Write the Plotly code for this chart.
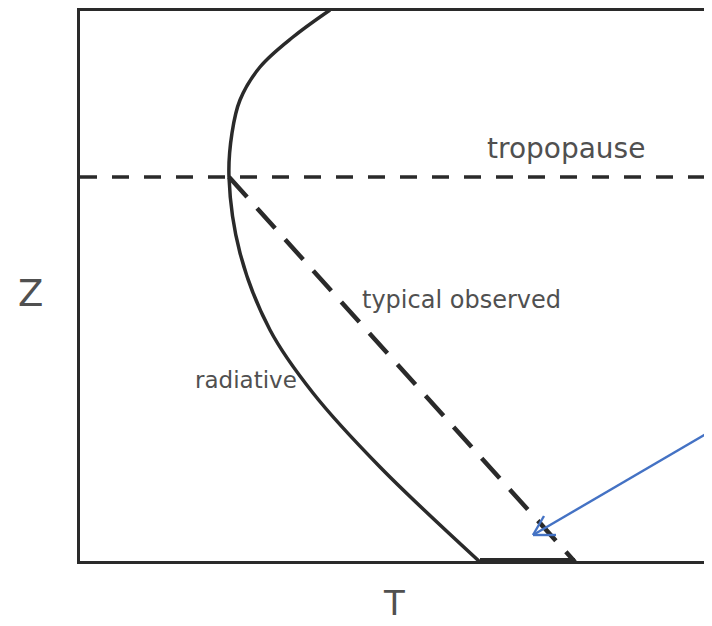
import plotly.graph_objects as go

# Data (arbitrary T / Z units)
rad_T = [252, 215, 182, 162, 154, 151, 162, 192, 235, 302, 402]
rad_Z = [552, 525, 495, 462, 429, 385, 309, 232, 169, 95, 0]
obs_T = [151, 497]
obs_Z = [385, 0]
trop_T = [2, 634]
trop_Z = [385, 385]
surf_T = [402, 497]
surf_Z = [1, 1]
arrow_tip = (455, 27)
arrow_tail = (640, 135)

LINE = "#2a2a2a"
TXT = "#505050"
BLUE = "#4472C4"

fig = go.Figure()
fig.add_trace(go.Scatter(x=trop_T, y=trop_Z, mode="lines",
                         line=dict(color=LINE, width=3.5, dash="17px,15px"), hoverinfo="skip"))
fig.add_trace(go.Scatter(x=rad_T, y=rad_Z, mode="lines",
                         line=dict(color=LINE, width=3.5, shape="spline", smoothing=1.0), hoverinfo="skip"))
fig.add_trace(go.Scatter(x=obs_T, y=obs_Z, mode="lines",
                         line=dict(color=LINE, width=4.5, dash="27px,15px"), hoverinfo="skip"))
fig.add_trace(go.Scatter(x=surf_T, y=surf_Z, mode="lines",
                         line=dict(color=LINE, width=6), hoverinfo="skip", cliponaxis=False))

# arrow: shaft + open head
tx, ty = arrow_tip
fig.add_shape(type="line", xref="x", yref="y", x0=tx, y0=ty, x1=arrow_tail[0], y1=arrow_tail[1],
              line=dict(color=BLUE, width=2.4))
fig.add_shape(type="line", xref="x", yref="y", x0=tx, y0=ty, x1=tx + 11, y1=ty + 19,
              line=dict(color=BLUE, width=2.4))
fig.add_shape(type="line", xref="x", yref="y", x0=tx, y0=ty, x1=tx + 23, y1=ty,
              line=dict(color=BLUE, width=2.4))

font = "DejaVu Sans, Arial, sans-serif"
fig.add_annotation(x=488, y=414, text="tropopause", showarrow=False, xanchor="center", yanchor="middle",
                   font=dict(family=font, size=28, color=TXT))
fig.add_annotation(x=282, y=262, text="typical observed", showarrow=False, xanchor="left", yanchor="middle",
                   font=dict(family=font, size=24, color=TXT))
fig.add_annotation(x=221, y=182, text="radiative", showarrow=False, xanchor="right", yanchor="middle",
                   font=dict(family=font, size=23, color=TXT))
fig.add_annotation(x=-0.079, y=0.486, xref="paper", yref="paper", text="Z", showarrow=False,
                   xanchor="center", yanchor="middle", font=dict(family=font, size=37, color=TXT))
fig.add_annotation(x=0.497, y=-0.1164, xref="paper", yref="paper", text="T", showarrow=False,
                   xanchor="center", yanchor="bottom", font=dict(family=font, size=34, color=TXT))

# The page body has an 8px margin, so the figure is 704x618 placed at (8, 8)
fig.update_layout(
    width=704, height=618,
    margin=dict(l=72, r=0, t=3, b=65),
    paper_bgcolor="white", plot_bgcolor="white",
    showlegend=False,
    xaxis=dict(range=[2, 634], showgrid=False, zeroline=False, showticklabels=False, ticks="",
               showline=True, linecolor=LINE, linewidth=3, mirror=True),
    yaxis=dict(range=[1, 551], showgrid=False, zeroline=False, showticklabels=False, ticks="",
               showline=True, linecolor=LINE, linewidth=3),
)
fig.write_html("out.html")
